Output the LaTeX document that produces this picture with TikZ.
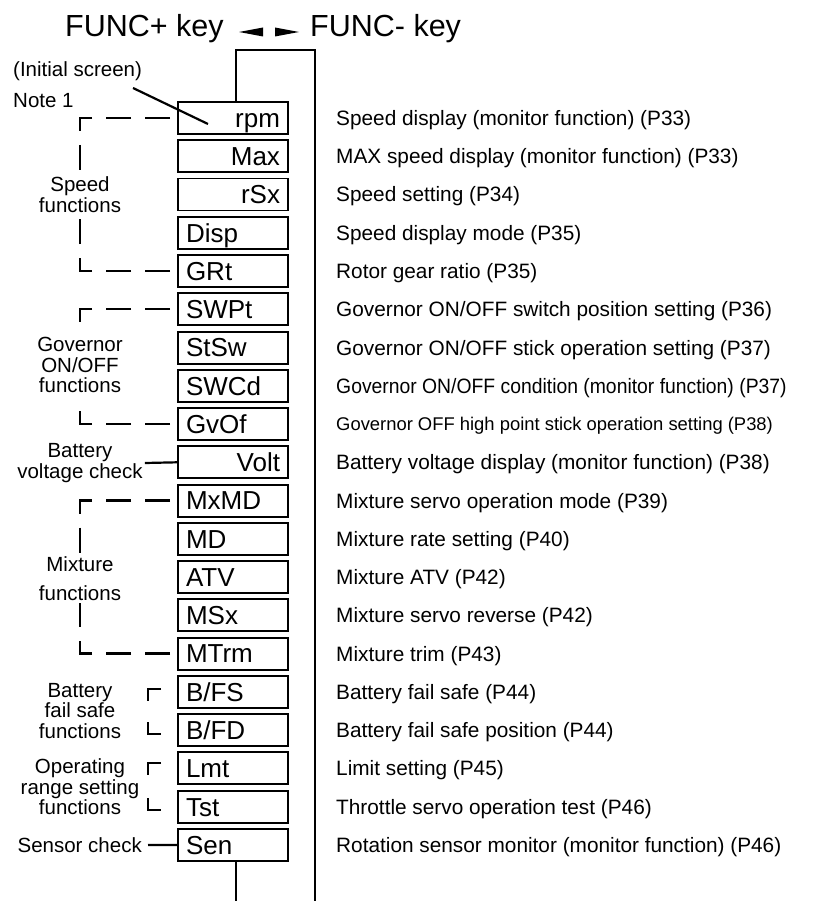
\documentclass[tikz,border=0pt]{standalone}
\usepackage{fontspec}
\setmainfont{Liberation Sans}
\begin{document}
\begin{tikzpicture}[x=1pt,y=-1pt,
  box/.style={draw,fill=white,line width=1.9pt,minimum width=110pt,minimum height=32pt,
    inner xsep=8pt,inner ysep=0pt,text width=94pt,text height=18.6pt,text depth=0pt,
    font=\fontsize{26}{26}\selectfont},
  desc/.style={anchor=west,inner sep=0pt,text height=14.9pt,text depth=0pt,
    font=\fontsize{20.8}{20.8}\selectfont},
  lab/.style={align=center,inner sep=2pt,font=\fontsize{20.5}{20.5}\selectfont},
  frame/.style={line width=2.5pt},
  brk/.style={line width=2.3pt,dash pattern=on 25pt off 14pt,dash phase=32pt},
  lbr/.style={line width=2.3pt},
  conn/.style={line width=2.2pt}]
\useasboundingbox (0,0) rectangle (827,901);
\fill[white] (0,0) rectangle (827,901);

% title
\node[anchor=base west,inner sep=0pt,font=\fontsize{30.5}{30.5}\selectfont] (tplus) at (65,37) {FUNC+ key};
\node[anchor=base west,inner sep=0pt,font=\fontsize{30.5}{30.5}\selectfont] (tminus) at (310,37) {FUNC- key};
\fill (239,32) -- (263,27.5) -- (263,36.5) -- cycle;
\fill (299,32) -- (275,27.5) -- (275,36.5) -- cycle;

% boxes
\node[box,align=right] (rpm)  at (233,118.0) {rpm};
\node[box,align=right] (Max)  at (233,156.3) {Max};
\node[box,align=right] (rSx)  at (233,194.5) {rSx};
\node[box,align=left]  (Disp) at (233,232.8) {Disp};
\node[box,align=left]  (GRt)  at (233,271.0) {GRt};
\node[box,align=left]  (SWPt) at (233,309.3) {SWPt};
\node[box,align=left]  (StSw) at (233,347.6) {StSw};
\node[box,align=left]  (SWCd) at (233,385.8) {SWCd};
\node[box,align=left]  (GvOf) at (233,424.1) {GvOf};
\node[box,align=right] (Volt) at (233,462.3) {Volt};
\node[box,align=left]  (MxMD) at (233,500.6) {MxMD};
\node[box,align=left]  (MD)   at (233,538.9) {MD};
\node[box,align=left]  (ATV)  at (233,577.1) {ATV};
\node[box,align=left]  (MSx)  at (233,615.4) {MSx};
\node[box,align=left]  (MTrm) at (233,653.6) {MTrm};
\node[box,align=left]  (BFS)  at (233,691.9) {B/FS};
\node[box,align=left]  (BFD)  at (233,730.2) {B/FD};
\node[box,align=left]  (Lmt)  at (233,768.4) {Lmt};
\node[box,align=left]  (Tst)  at (233,806.7) {Tst};
\node[box,align=left]  (Sen)  at (233,844.9) {Sen};

% descriptions
\node[desc] (d1)  at (336,118.0) {Speed display (monitor function) (P33)};
\node[desc] (d2)  at (336,156.3) {MAX speed display (monitor function) (P33)};
\node[desc] (d3)  at (336,194.5) {Speed setting (P34)};
\node[desc] (d4)  at (336,232.8) {Speed display mode (P35)};
\node[desc] (d5)  at (336,271.0) {Rotor gear ratio (P35)};
\node[desc] (d6)  at (336,309.3) {Governor ON/OFF switch position setting (P36)};
\node[desc] (d7)  at (336,347.6) {Governor ON/OFF stick operation setting (P37)};
\node[desc] (d8)  at (336,385.8) {\scalebox{0.93}[1]{Governor ON/OFF condition (monitor function) (P37)}};
\node[desc,text height=13.2pt,font=\fontsize{18.4}{18.4}\selectfont] (d9) at (336,424.1) {Governor OFF high point stick operation setting (P38)};
\node[desc] (d10) at (336,462.3) {Battery voltage display (monitor function) (P38)};
\node[desc] (d11) at (336,500.6) {Mixture servo operation mode (P39)};
\node[desc] (d12) at (336,538.9) {Mixture rate setting (P40)};
\node[desc] (d13) at (336,577.1) {Mixture ATV (P42)};
\node[desc] (d14) at (336,615.4) {Mixture servo reverse (P42)};
\node[desc] (d15) at (336,653.6) {Mixture trim (P43)};
\node[desc] (d16) at (336,691.9) {Battery fail safe (P44)};
\node[desc] (d17) at (336,730.2) {Battery fail safe position (P44)};
\node[desc] (d18) at (336,768.4) {Limit setting (P45)};
\node[desc] (d19) at (336,806.7) {Throttle servo operation test (P46)};
\node[desc] (d20) at (336,844.9) {Rotation sensor monitor (monitor function) (P46)};

% frame lines
\coordinate (ftop) at (236,50);
\coordinate (fright) at (315,50);
\coordinate (fbot) at (315,905);
\coordinate (bbot) at (236,905);
\draw[frame] (rpm.north -| ftop) -- (ftop) -- (fright) -- (fbot);
\draw[frame] (Sen.south -| bbot) -- (bbot);

% left labels
\node[lab,anchor=base west,inner sep=0pt] (init) at (13,77) {(Initial screen)};
\node[lab,anchor=base west,inner sep=0pt] (note) at (13,108) {Note 1};
\coordinate (p1) at (133,88);
\coordinate (p2) at (208,124);
\draw[conn] (p1) -- (p2);

\node[lab] (spd) at (80,194.5) {Speed\\functions};
\draw[brk] (rpm.west) -| (spd.north);
\draw[brk] (GRt.west) -| (spd.south);

\node[lab,inner ysep=5pt] (gov) at (80,365) {Governor\\ON/OFF\\functions};
\draw[brk] (SWPt.west) -| (gov.north);
\draw[brk] (GvOf.west) -| (gov.south);

\node[lab] (bvc) at (80,463) {Battery\\voltage check};
\draw[conn] (bvc.east) -- (Volt.west);

\node[lab] (mix) at (80,579) {Mixture\\[8.5pt]functions};
\draw[brk] (MxMD.west) -| (mix.north);
\draw[brk] (MTrm.west) -| (mix.south);

\node[lab] (bfs) at (80,711) {Battery\\fail safe\\functions};
\draw[lbr] (161,689) -- (148,689) -- (148,701);
\draw[lbr] (148,722) -- (148,734) -- (161,734);

\node[lab] (ops) at (80,787) {Operating\\range setting\\functions};
\draw[lbr] (161,763) -- (148,763) -- (148,775);
\draw[lbr] (148,798) -- (148,810) -- (161,810);

\node[lab,anchor=east,inner xsep=6pt] (senl) at (148,845) {Sensor check};
\draw[conn] (senl.east) -- (Sen.west);
\end{tikzpicture}
\end{document}
